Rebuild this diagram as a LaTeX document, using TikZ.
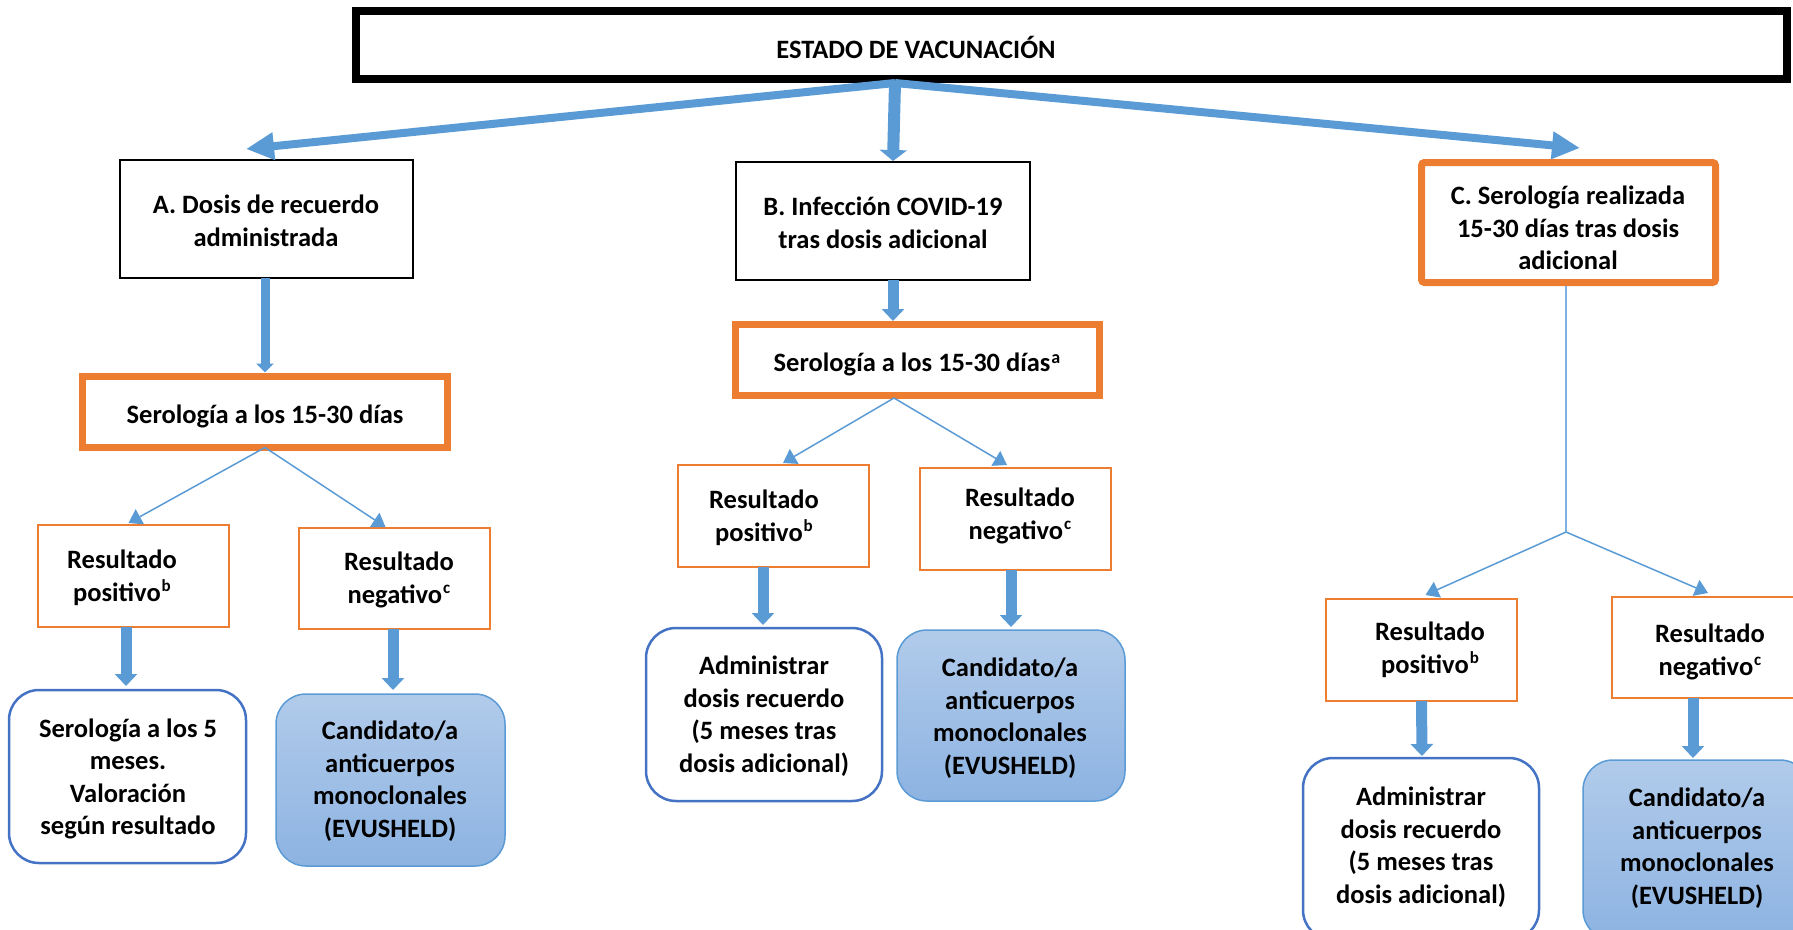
\documentclass[tikz,border=0pt]{standalone}
\usepackage{fontspec}
\setmainfont{Carlito}
\usetikzlibrary{arrows.meta,calc}
\definecolor{ablue}{HTML}{5B9BD5}
\definecolor{lblue}{HTML}{7EB1E3}
\definecolor{aorange}{HTML}{ED7D31}
\definecolor{dblue}{HTML}{4472C4}
\definecolor{ctop}{HTML}{B1CBEA}
\definecolor{cbot}{HTML}{8DB3E2}
\newcommand\mysupsmall[1]{\kern1pt\raisebox{10pt}{\fontsize{17}{17}\selectfont #1}}
\newcommand\mysupa[1]{\kern1pt\raisebox{8pt}{\fontsize{18}{18}\selectfont #1}}
\begin{document}
\begin{tikzpicture}[x=1pt,y=-1pt,
  every node/.style={inner sep=0pt, outer sep=0pt},
  txt/.style={align=center, font=\fontsize{26.5}{32.5}\selectfont\bfseries},
  topbox/.style={draw=black, line width=8pt, fill=white},
  blackbox/.style={draw=black, line width=2pt, fill=white},
  serbox/.style={draw=aorange, line width=7pt, fill=white},
  serboxr/.style={draw=aorange, line width=7pt, fill=white, rounded corners=3pt},
  resbox/.style={draw=aorange, line width=2.5pt, fill=white},
  actbox/.style={draw=dblue, line width=2.5pt, fill=white, rounded corners=30pt},
  candbox/.style={draw=ablue, line width=1.5pt, rounded corners=30pt, top color=ctop, bottom color=cbot},
  bigarr/.style={draw=ablue, line width=8pt, -{Triangle[length=28pt,width=26pt]}},
  downarr/.style={draw=ablue, line width=12pt, -{Triangle[length=11pt,width=27pt]}},
  midarr/.style={draw=ablue, line width=11pt, -{Triangle[length=12pt,width=22pt]}},
  smallarr/.style={draw=ablue, line width=9pt, -{Triangle[length=9pt,width=17pt]}},
  thinarr/.style={draw=ablue, line width=1.5pt, -{Triangle[length=13pt,width=17pt]}},
  thinline/.style={draw=lblue, line width=1.5pt}
]
\useasboundingbox (0,0) rectangle (1793,929);

% top
\node[topbox, minimum width=1431pt, minimum height=68pt] (top) at (1071.5,45) {};
\node[txt] (topt) at (916,47) {ESTADO DE VACUNACIÓN};

% level 1
\node[blackbox, minimum width=293pt, minimum height=118pt] (A) at (266.5,219) {};
\node[txt] (At) at (266,221) {A. Dosis de recuerdo\\administrada};
\node[blackbox, minimum width=294pt, minimum height=118pt] (B) at (883,221) {};
\node[txt] (Bt) at (883,223) {B. Infección COVID-19\\tras dosis adicional};
\node[serboxr, minimum width=294pt, minimum height=120pt] (C) at (1568.5,222.5) {};
\node[txt] (Ct) at (1568,228) {C. Serología realizada\\15-30 días tras dosis\\adicional};

% serologia boxes
\node[serbox, minimum width=365pt, minimum height=71pt] (serA) at (265,412) {};
\node[txt] (serAt) at (265,416) {Serología a los 15-30 días};
\node[serbox, minimum width=364pt, minimum height=71pt] (serB) at (917.5,360) {};
\node[txt] (serBt) at (917,364) {Serología a los 15-30 días\mysupa{a}};

% result boxes
\node[resbox, minimum width=191pt, minimum height=102pt] (pA) at (133.5,576) {};
\node[txt] (pAt) at (122,578) {Resultado\\positivo\mysupsmall{b}};
\node[resbox, minimum width=191pt, minimum height=101pt] (nA) at (394.5,578.5) {};
\node[txt] (nAt) at (399,580) {Resultado\\negativo\mysupsmall{c}};
\node[resbox, minimum width=191pt, minimum height=102pt] (pB) at (773.5,516) {};
\node[txt] (pBt) at (764,518) {Resultado\\positivo\mysupsmall{b}};
\node[resbox, minimum width=191pt, minimum height=102pt] (nB) at (1015.5,519) {};
\node[txt] (nBt) at (1020,516) {Resultado\\negativo\mysupsmall{c}};
\node[resbox, minimum width=191pt, minimum height=102pt] (pC) at (1421.5,650) {};
\node[txt] (pCt) at (1430,650) {Resultado\\positivo\mysupsmall{b}};
\node[resbox, minimum width=198pt, minimum height=101pt] (nC) at (1711,647.5) {};
\node[txt] (nCt) at (1710,652) {Resultado\\negativo\mysupsmall{c}};

% final boxes
\node[actbox, minimum width=237pt, minimum height=173pt] (rA) at (127.5,776.5) {};
\node[txt] (rAt) at (128,779) {Serología a los 5\\meses.\\Valoración\\según resultado};
\node[candbox, minimum width=229pt, minimum height=172pt] (cA) at (390.5,780) {};
\node[txt] (cAt) at (390,781) {Candidato/a\\anticuerpos\\monoclonales\\(EVUSHELD)};
\node[actbox, minimum width=236pt, minimum height=173pt] (rB) at (764,714.5) {};
\node[txt] (rBt) at (764,716) {Administrar\\dosis recuerdo\\(5 meses tras\\dosis adicional)};
\node[candbox, minimum width=228pt, minimum height=171pt] (cB) at (1011,715.5) {};
\node[txt] (cBt) at (1010,718) {Candidato/a\\anticuerpos\\monoclonales\\(EVUSHELD)};
\node[actbox, minimum width=236pt, minimum height=182pt] (rC) at (1421,849) {};
\node[txt] (rCt) at (1421,847) {Administrar\\dosis recuerdo\\(5 meses tras\\dosis adicional)};
\node[candbox, minimum width=227pt, minimum height=180pt] (cC) at (1696.5,850) {};
\node[txt] (cCt) at (1697,848) {Candidato/a\\anticuerpos\\monoclonales\\(EVUSHELD)};

% top connectors
\coordinate (o) at (895,83);
\coordinate (tl) at (246,149);
\coordinate (tr) at (1580,148);
\coordinate (td) at (893,161);
\draw[bigarr] (o) -- (tl);
\draw[bigarr] (o) -- (tr);
\draw[downarr] (o) -- (td);

% column A
\draw[smallarr] (A.south -| serA.north) -- ($(serA.north)+(0,-4)$);
\draw[thinarr] (serA.south) -- ($(pA.north)+(-5,-2)$);
\draw[thinarr] (serA.south) -- ($(nA.north)+(-9,-1)$);
\draw[midarr] ($(pA.south)+(-7.5,0)$) -- ($(rA.north)+(-1.5,-4)$);
\draw[midarr] ($(nA.south)+(-1.5,0)$) -- ($(cA.north)+(2.5,-4)$);

% column B
\draw[midarr] ($(B.south)+(10,0)$) -- ($(serB.north)+(-24.5,-3.5)$);
\draw[thinarr] ($(serB.south)+(-23.5,2.5)$) -- ($(pB.north)+(9.5,-2)$);
\draw[thinarr] ($(serB.south)+(-23.5,2.5)$) -- ($(nB.north)+(-8.5,-3)$);
\draw[midarr] ($(pB.south)+(-10.5,0)$) -- ($(rB.north)+(-1,-3)$);
\draw[midarr] ($(nB.south)+(-4.5,0)$) -- ($(cB.north)+(0,-3)$);

% column C
\coordinate (j) at (1566,532);
\draw[thinline] ($(C.south)+(-2.5,3.5)$) -- (j);
\draw[thinarr] (j) -- ($(pC.north)+(4,-4)$);
\draw[thinarr] (j) -- ($(nC.north)+(-3,-4)$);
\draw[midarr] (pC.south) -- ($(rC.north)+(1,-2)$);
\draw[midarr] ($(nC.south)+(-18,0)$) -- ($(cC.north)+(-3.5,-2)$);
\end{tikzpicture}
\end{document}
